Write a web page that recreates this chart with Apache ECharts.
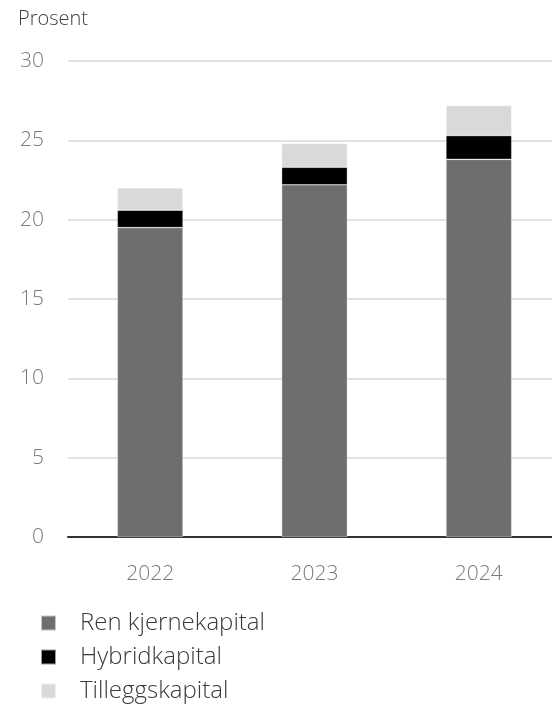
<!DOCTYPE html>
<html>
<head>
<meta charset="utf-8">
<script src="https://cdn.jsdelivr.net/npm/echarts@6/dist/echarts.min.js"></script>
<style>
  html, body { margin: 0; padding: 0; background: #fff; overflow: hidden; }
  #chart { width: 561px; height: 709px; }
</style>
</head>
<body>
<div id="chart"></div>
<script>
// Capital ratios by year, per cent
const years = ['2022', '2023', '2024'];
const renKjernekapital = [19.5, 22.2, 23.8];
const hybridkapital = [1.1, 1.1, 1.5];
const tilleggskapital = [1.4, 1.5, 1.9];
const yTicks = [0, 5, 10, 15, 20, 25, 30];

const font = '"Open Sans", "Noto Sans", sans-serif';

const chart = echarts.init(document.getElementById('chart'), null, { renderer: 'canvas' });

function barSeries(name, data, color) {
  return {
    name: name,
    type: 'bar',
    stack: 'kapital',
    data: data,
    barWidth: '40%',
    itemStyle: { color: color, borderColor: 'rgba(255,255,255,0.6)', borderWidth: 0.6 },
    emphasis: { disabled: true }
  };
}

chart.setOption({
  animation: false,
  backgroundColor: '#ffffff',
  textStyle: { fontFamily: font },
  grid: { left: 68, right: 0, top: 61, bottom: 172, containLabel: false },
  title: {
    text: 'Prosent',
    left: 13,
    top: 4,
    textStyle: { fontFamily: font, fontSize: 20, fontWeight: 300, color: '#404040' }
  },
  legend: {
    orient: 'vertical',
    left: 35,
    top: 606,
    itemWidth: 15,
    itemHeight: 15,
    itemGap: 10,
    icon: 'rect',
    textStyle: { fontFamily: font, fontSize: 24, fontWeight: 300, color: '#3a3a3a', padding: [0, 0, 0, 19] },
    data: ['Ren kjernekapital', 'Hybridkapital', 'Tilleggskapital']
  },
  xAxis: {
    type: 'category',
    data: years,
    axisLine: { lineStyle: { color: '#333333', width: 2 } },
    axisTick: { show: false },
    axisLabel: { fontFamily: font, fontSize: 21, fontWeight: 300, color: '#7a7a7a', margin: 27 }
  },
  yAxis: {
    type: 'value',
    min: yTicks[0],
    max: yTicks[yTicks.length - 1],
    interval: 5,
    axisLine: { show: false },
    axisTick: { show: false },
    splitLine: { lineStyle: { color: '#d9d9d9', width: 1.5 } },
    axisLabel: { fontFamily: font, fontSize: 21, fontWeight: 300, color: '#7a7a7a', margin: 24 }
  },
  series: [
    barSeries('Ren kjernekapital', renKjernekapital, '#6e6e6e'),
    barSeries('Hybridkapital', hybridkapital, '#000000'),
    barSeries('Tilleggskapital', tilleggskapital, '#d9d9d9')
  ]
});
</script>
</body>
</html>
